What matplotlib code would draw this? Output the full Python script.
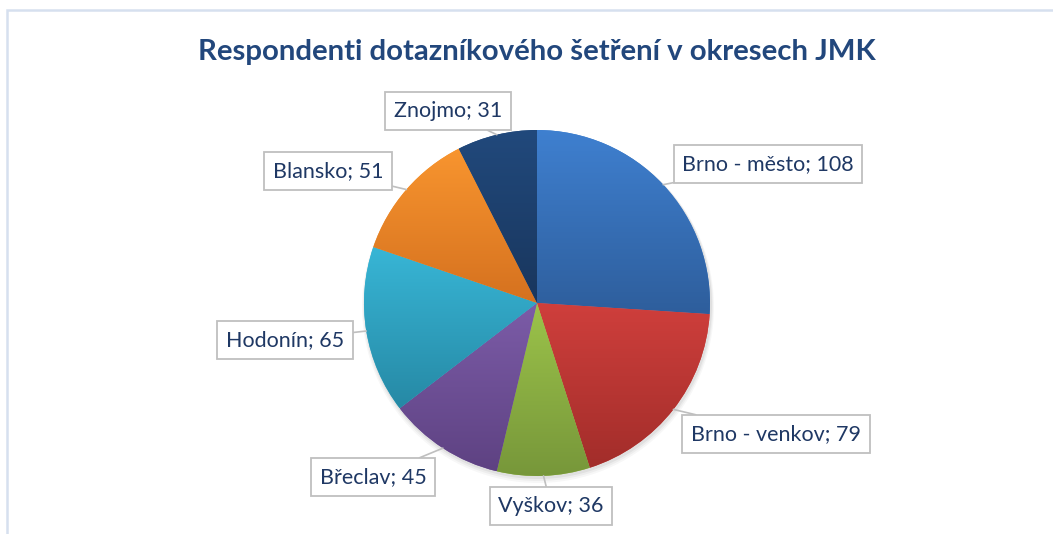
import numpy as np
import matplotlib
matplotlib.use("Agg")
import matplotlib.pyplot as plt
from matplotlib.patches import Rectangle
from matplotlib.colors import LinearSegmentedColormap

# ---- data ----
categories = ["Brno - město", "Brno - venkov", "Vyškov", "Břeclav", "Hodonín", "Blansko", "Znojmo"]
values = [108, 79, 36, 45, 65, 51, 31]
top_colors = ["#3f80d0", "#cf3f3c", "#9cc34a", "#7c5ca8", "#38b6d6", "#f8952f", "#21497c"]
bottom_colors = ["#2e5e9c", "#a22d2a", "#77973a", "#5e4282", "#2689a5", "#d5711f", "#19365d"]
title = "Respondenti dotazníkového šetření v okresech JMK"

# label box centres in pixel coordinates (x, y from top)
label_pos = [(768, 164), (776, 434), (551, 506), (373, 477), (285, 340), (328, 171), (448, 111)]

W, H = 1053, 534
plt.rcParams['font.family'] = ['Lato', 'DejaVu Sans']
fig = plt.figure(figsize=(W / 100, H / 100), dpi=100)
ax = fig.add_axes([0, 0, 1, 1])

cx, cy, r = 537, H - 303, 173

# soft shadow
for i, a in enumerate([0.05, 0.04, 0.03]):
    ax.add_patch(plt.Circle((cx + 1, cy - 2 - i), r + 1 + i, color="black", alpha=a, lw=0, zorder=0))

wedges, _ = ax.pie(values, startangle=90, counterclock=False, center=(cx, cy), radius=r,
                   colors=top_colors, wedgeprops=dict(linewidth=0))

grad = np.linspace(0, 1, 256).reshape(-1, 1)
for w, c1, c2 in zip(wedges, top_colors, bottom_colors):
    verts = w.get_patch_transform().transform(w.get_path().vertices)
    x0, x1 = verts[:, 0].min(), verts[:, 0].max()
    y0, y1 = verts[:, 1].min(), verts[:, 1].max()
    cmap = LinearSegmentedColormap.from_list("g", [c2, c1])
    im = ax.imshow(grad, extent=(x0, x1, y0, y1), origin="lower", cmap=cmap,
                   aspect="auto", zorder=2, interpolation="bilinear")
    im.set_clip_path(w)

total = sum(values)
ang = 90.0
for cat, v, (lx, ly) in zip(categories, values, label_pos):
    sweep = 360.0 * v / total
    mid = np.deg2rad(ang - sweep / 2)
    ang -= sweep
    px, py = cx + r * np.cos(mid), cy + r * np.sin(mid)
    ax.annotate(f"{cat}; {v}", xy=(px, py), xytext=(lx, H - ly),
                ha="center", va="center", fontsize=15.5, color="#1f3864",
                bbox=dict(boxstyle="square,pad=0.4", fc="white", ec="#bfbfbf", lw=1.3),
                arrowprops=dict(arrowstyle="-", color="#bfbfbf", lw=1.2, shrinkA=0, shrinkB=0),
                zorder=5)

ax.text(W / 2 + 10, H - 52, title, ha="center", va="center", fontsize=21.2,
        fontweight="bold", color="#22477c")

ax.add_patch(Rectangle((7, -10), W + 20, H - 9.5 + 10, fill=False, ec="#d6e0ef", lw=1.8,
                       clip_on=False, zorder=1))

ax.set_xlim(0, W)
ax.set_ylim(0, H)
ax.set_aspect("equal")
ax.axis("off")
fig.savefig("out.png", dpi=100, facecolor="white")
